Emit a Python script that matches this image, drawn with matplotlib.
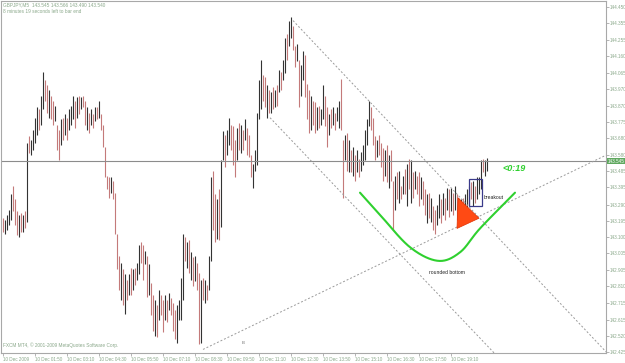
import numpy as np
import matplotlib
matplotlib.use("Agg")
import matplotlib.pyplot as plt
from matplotlib.patches import Polygon, Rectangle
from matplotlib.transforms import blended_transform_factory

W, H = 625, 363

# ---------------- data (GBPJPY M5 bars) ----------------
highs = [143.21, 143.20, 143.23, 143.26, 143.35, 143.40, 143.32, 143.25, 143.23, 143.24,
         143.23, 143.25, 143.65, 143.69, 143.67, 143.73, 143.80, 143.86, 143.85, 143.93,
         144.07, 144.02, 143.99, 143.96, 143.93, 143.90, 143.87, 143.76, 143.73, 143.79,
         143.80, 143.82, 143.80, 143.85, 143.87, 143.93, 143.90, 143.92, 143.93, 143.92,
         143.93, 143.90, 143.86, 143.83, 143.85, 143.82, 143.86, 143.86, 143.90, 143.82,
         143.76, 143.63, 143.46, 143.45, 143.45, 143.43, 143.36, 143.12, 142.99, 142.95,
         142.91, 142.88, 142.85, 142.88, 142.92, 142.91, 142.92, 142.95, 143.05, 143.07,
         143.05, 143.02, 142.99, 142.94, 142.83, 142.76, 142.73, 142.70, 142.79, 142.76,
         142.73, 142.76, 142.73, 142.77, 142.74, 142.71, 142.67, 142.70, 142.73, 142.86,
         143.12, 143.10, 143.07, 143.08, 143.01, 142.98, 142.99, 142.95, 142.89, 142.85,
         142.86, 142.85, 142.82, 142.99, 143.45, 143.49, 143.35, 143.32, 143.38, 143.55,
         143.72, 143.70, 143.73, 143.80, 143.76, 143.75, 143.67, 143.74, 143.77, 143.76,
         143.73, 143.79, 143.74, 143.70, 143.58, 143.53, 143.61, 143.83, 144.02, 144.14,
         144.05, 144.04, 143.99, 143.96, 143.95, 143.98, 143.96, 143.99, 144.08, 144.07,
         144.14, 144.27, 144.29, 144.37, 144.39, 144.34, 144.22, 144.23, 144.14, 144.11,
         144.19, 144.17, 144.00, 143.96, 143.93, 143.90, 143.89, 143.86, 143.87, 143.85,
         143.99, 143.93, 143.86, 143.82, 143.85, 143.86, 143.83, 143.86, 143.90, 144.03,
         143.67, 143.70, 143.71, 143.67, 143.61, 143.63, 143.58, 143.61, 143.56, 143.60,
         143.64, 143.73, 143.79, 143.90, 143.86, 143.80, 143.69, 143.67, 143.70, 143.65,
         143.62, 143.61, 143.64, 143.58, 143.61, 143.43, 143.46, 143.48, 143.49, 143.40,
         143.46, 143.50, 143.53, 143.56, 143.55, 143.48, 143.49, 143.46, 143.48, 143.45,
         143.43, 143.38, 143.35, 143.36, 143.33, 143.28, 143.26, 143.29, 143.35, 143.32,
         143.36, 143.33, 143.39, 143.38, 143.39, 143.36, 143.40, 143.35, 143.33, 143.32,
         143.33, 143.35, 143.38, 143.40, 143.42, 143.43, 143.40, 143.45, 143.45, 143.55,
         143.56, 143.55, 143.566]
lows = [143.13, 143.12, 143.14, 143.17, 143.20, 143.25, 143.17, 143.11, 143.10, 143.13,
        143.13, 143.15, 143.19, 143.59, 143.58, 143.61, 143.65, 143.70, 143.73, 143.76,
        143.85, 143.90, 143.83, 143.80, 143.79, 143.76, 143.78, 143.61, 143.55, 143.64,
        143.67, 143.70, 143.67, 143.73, 143.76, 143.79, 143.74, 143.80, 143.82, 143.85,
        143.86, 143.76, 143.73, 143.71, 143.76, 143.74, 143.78, 143.79, 143.80, 143.73,
        143.63, 143.45, 143.38, 143.33, 143.36, 143.32, 143.12, 142.91, 142.79, 142.73,
        142.70, 142.65, 142.73, 142.76, 142.76, 142.79, 142.82, 142.85, 142.88, 142.95,
        142.85, 142.94, 142.75, 142.76, 142.64, 142.55, 142.52, 142.51, 142.61, 142.64,
        142.54, 142.61, 142.60, 142.67, 142.64, 142.55, 142.50, 142.48, 142.61, 142.61,
        142.73, 142.96, 142.92, 142.89, 142.85, 142.81, 142.84, 142.79, 142.47, 142.48,
        142.73, 142.71, 142.73, 142.79, 142.96, 143.14, 143.07, 143.09, 143.08, 143.16,
        143.55, 143.51, 143.58, 143.64, 143.61, 143.52, 143.45, 143.55, 143.61, 143.59,
        143.61, 143.67, 143.58, 143.57, 143.45, 143.39, 143.49, 143.52, 143.79, 143.85,
        143.90, 143.86, 143.80, 143.83, 143.83, 143.85, 143.86, 143.87, 143.95, 143.96,
        144.02, 144.06, 144.14, 144.22, 144.27, 144.20, 144.10, 144.13, 143.86, 143.93,
        144.02, 143.92, 143.79, 143.71, 143.73, 143.76, 143.71, 143.73, 143.74, 143.76,
        143.79, 143.75, 143.63, 143.70, 143.74, 143.76, 143.73, 143.78, 143.74, 143.73,
        143.33, 143.55, 143.49, 143.48, 143.48, 143.46, 143.43, 143.48, 143.45, 143.49,
        143.52, 143.55, 143.64, 143.75, 143.73, 143.64, 143.55, 143.57, 143.58, 143.51,
        143.43, 143.46, 143.42, 143.39, 143.43, 143.14, 143.26, 143.32, 143.30, 143.32,
        143.35, 143.35, 143.28, 143.38, 143.30, 143.33, 143.38, 143.35, 143.28, 143.32,
        143.29, 143.23, 143.18, 143.21, 143.19, 143.14, 143.12, 143.17, 143.21, 143.18,
        143.23, 143.20, 143.26, 143.22, 143.25, 143.23, 143.26, 143.20, 143.18, 143.19,
        143.20, 143.23, 143.25, 143.29, 143.32, 143.28, 143.30, 143.32, 143.35, 143.38,
        143.48, 143.46, 143.490]
closes = [143.15, 143.19, 143.21, 143.25, 143.32, 143.29, 143.19, 143.14, 143.17, 143.15,
          143.21, 143.20, 143.63, 143.61, 143.65, 143.70, 143.78, 143.83, 143.76, 143.90,
          144.02, 143.93, 143.86, 143.90, 143.82, 143.79, 143.80, 143.64, 143.58, 143.76,
          143.70, 143.80, 143.73, 143.83, 143.86, 143.90, 143.78, 143.90, 143.83, 143.90,
          143.87, 143.78, 143.83, 143.73, 143.82, 143.76, 143.85, 143.80, 143.87, 143.75,
          143.64, 143.46, 143.43, 143.35, 143.43, 143.35, 143.14, 142.94, 142.82, 142.91,
          142.73, 142.82, 142.76, 142.85, 142.79, 142.88, 142.85, 142.94, 143.02, 142.98,
          142.88, 142.99, 142.79, 142.82, 142.67, 142.58, 142.70, 142.55, 142.76, 142.67,
          142.58, 142.73, 142.62, 142.75, 142.66, 142.58, 142.52, 142.67, 142.70, 142.84,
          143.08, 142.99, 143.05, 142.91, 142.98, 142.83, 142.96, 142.82, 142.52, 142.79,
          142.76, 142.82, 142.75, 142.96, 143.40, 143.20, 143.08, 143.29, 143.11, 143.52,
          143.69, 143.55, 143.70, 143.78, 143.64, 143.55, 143.49, 143.72, 143.64, 143.73,
          143.64, 143.76, 143.61, 143.58, 143.46, 143.49, 143.58, 143.80, 143.99, 144.05,
          143.93, 143.87, 143.96, 143.86, 143.93, 143.87, 143.95, 143.90, 144.05, 143.99,
          144.13, 144.26, 144.17, 144.34, 144.36, 144.22, 144.13, 144.20, 143.90, 144.08,
          144.17, 143.95, 143.82, 143.76, 143.90, 143.79, 143.74, 143.85, 143.76, 143.83,
          143.96, 143.78, 143.67, 143.80, 143.76, 143.85, 143.75, 143.85, 143.87, 143.76,
          143.38, 143.67, 143.52, 143.64, 143.50, 143.60, 143.45, 143.58, 143.46, 143.58,
          143.62, 143.70, 143.76, 143.85, 143.75, 143.67, 143.58, 143.65, 143.61, 143.53,
          143.46, 143.58, 143.43, 143.55, 143.45, 143.17, 143.43, 143.35, 143.46, 143.33,
          143.43, 143.38, 143.49, 143.40, 143.52, 143.35, 143.46, 143.38, 143.32, 143.42,
          143.32, 143.26, 143.32, 143.23, 143.32, 143.17, 143.14, 143.27, 143.33, 143.20,
          143.35, 143.23, 143.38, 143.25, 143.38, 143.26, 143.39, 143.23, 143.20, 143.29,
          143.23, 143.33, 143.35, 143.39, 143.35, 143.42, 143.32, 143.43, 143.43, 143.52,
          143.50, 143.52, 143.540]
first_open = 143.16

price_ticks = [144.450, 144.355, 144.255, 144.160, 144.065, 143.970, 143.870, 143.775,
               143.680, 143.580, 143.485, 143.395, 143.290, 143.195, 143.100, 143.005,
               142.905, 142.810, 142.715, 142.615, 142.520, 142.425]
time_labels = ["10 Dec 2009", "10 Dec 01:50", "10 Dec 03:10", "10 Dec 04:30",
               "10 Dec 05:50", "10 Dec 07:10", "10 Dec 08:30", "10 Dec 09:50",
               "10 Dec 11:10", "10 Dec 12:30", "10 Dec 13:50", "10 Dec 15:10",
               "10 Dec 16:30", "10 Dec 17:50", "10 Dec 19:10"]
bars_per_label = 16
current_price = 143.545
header = "GBPJPY,M5  143.545 143.566 143.490 143.540"
timer_text = "8 minutes 19 seconds left to bar end"
copyright_text = "FXCM MT4, \u00a9 2001-2009 MetaQuotes Software Corp."

# drawn objects (bar index, price)
channel_upper = [(145.0, 144.37), (302.0, 142.42)]
channel_lower = [(133.5, 143.80), (245.5, 142.42)]
support_line = [(100.0, 142.44), (301.5, 143.58)]
rounded_bottom = [(178.5, 143.36), (188.5, 143.23), (203.5, 143.04), (217.5, 142.96),
                  (228.5, 143.01), (238.5, 143.15), (256.0, 143.36)]
triangle = [(227.5, 143.33), (227.0, 143.15), (238.0, 143.21)]
breakout_box = (233.0, 143.28, 239.5, 143.44)

# ---------------- figure ----------------
plt.rcParams['font.family'] = ['Liberation Sans', 'DejaVu Sans']
fig = plt.figure(figsize=(W / 100, H / 100), dpi=100)
fig.patch.set_facecolor('white')
ax = fig.add_axes([1 / W, 1 - 353 / H, 605 / W, 352 / H])
ax.set_xlim(-1, 301.5)
ax.set_ylim(142.419, 144.485)

axis_col = '#a8a8a8'
txt_col = '#8aa88a'
for s in ax.spines.values():
    s.set_color(axis_col)
    s.set_linewidth(0.8)

highs_a = np.array(highs)
lows_a = np.array(lows)
closes_a = np.array(closes)
opens_a = np.r_[first_open, closes_a[:-1]]
idx = np.arange(len(highs_a))
up = closes_a >= opens_a
cols = np.where(up, '#333333', '#c47a7a')
ax.vlines(idx, lows_a, highs_a, colors=cols, linewidth=0.8)

# current price line
ax.axhline(current_price, color='#8c8c8c', linewidth=0.8)

# trend / channel lines
for ln in (channel_upper, channel_lower, support_line):
    xs, ys = zip(*ln)
    ax.plot(xs, ys, color='#9a9a9a', linewidth=0.7, linestyle=(0, (2, 2)))

# rounded bottom curve (Catmull-Rom through the points)
pts = np.array(rounded_bottom)
P = np.vstack([pts[0] * 2 - pts[1], pts, pts[-1] * 2 - pts[-2]])
cx, cy = [], []
t = np.linspace(0, 1, 30)
for k in range(1, len(P) - 2):
    p0, p1, p2, p3 = P[k - 1], P[k], P[k + 1], P[k + 2]
    seg = 0.5 * ((2 * p1)[None, :] + (-p0 + p2)[None, :] * t[:, None]
                 + (2 * p0 - 5 * p1 + 4 * p2 - p3)[None, :] * t[:, None] ** 2
                 + (-p0 + 3 * p1 - 3 * p2 + p3)[None, :] * t[:, None] ** 3)
    cx.extend(seg[:, 0]); cy.extend(seg[:, 1])
ax.plot(cx, cy, color='#2fd02f', linewidth=1.5, solid_capstyle='round')

ax.add_patch(Polygon(triangle, closed=True, facecolor='#ff4a14', edgecolor='#e03000',
                     linewidth=0.5, zorder=4))
bx0, by0, bx1, by1 = breakout_box
ax.add_patch(Rectangle((bx0, by0), bx1 - bx0, by1 - by0, fill=False,
                       edgecolor='#3a3a8a', linewidth=0.9, zorder=5))

ax.text(240.5, 143.33, "breakout", fontsize=3.6, color='#202020', va='center', ha='left')
ax.text(213.0, 142.89, "rounded bottom", fontsize=3.6, color='#202020', va='center', ha='left')
ax.text(249.5, 143.50, "<0:19", fontsize=6.5, color='#2fd02f', fontweight='bold',
        fontstyle='italic', va='center', ha='left')
ax.text(119.5, 142.48, "B", fontsize=3.2, color='#707070', va='center', ha='left')

# y axis on right
narrow = ['Liberation Sans Narrow', 'Liberation Sans', 'DejaVu Sans']
ax.yaxis.tick_right()
ax.set_yticks(price_ticks)
ax.set_yticklabels([f"{v:.3f}" for v in price_ticks], family=narrow)
ax.tick_params(axis='y', direction='out', length=1.8, width=0.6, color=axis_col,
               labelsize=3.3, labelcolor=txt_col, pad=0.8)
ax.text(1.002, current_price, f"{current_price:.3f}", family=narrow,
        transform=blended_transform_factory(ax.transAxes, ax.transData),
        fontsize=3.3, color='white', va='center', ha='left',
        bbox=dict(boxstyle='square,pad=0.15', facecolor='#5fa85f', edgecolor='none'),
        clip_on=False)

# x axis labels
xt = np.arange(len(time_labels)) * bars_per_label
ax.set_xticks(xt)
ax.set_xticklabels(time_labels, ha='left')
ax.tick_params(axis='x', direction='out', length=2.2, width=0.6, color=axis_col,
               labelsize=3.3, labelcolor=txt_col, pad=1.0)
for lab in ax.get_xticklabels():
    lab.set_horizontalalignment('left')

# header & footer texts
fig.text(3 / W, 1 - 2 / H, header, fontsize=3.4, color=txt_col, va='top', ha='left')
fig.text(3 / W, 1 - 9 / H, timer_text, fontsize=3.4, color=txt_col, va='top', ha='left')
fig.text(3 / W, 1 - 345 / H, copyright_text, fontsize=3.4, color=txt_col, va='center',
         ha='left')

fig.savefig('out.png', dpi=100, facecolor='white')
